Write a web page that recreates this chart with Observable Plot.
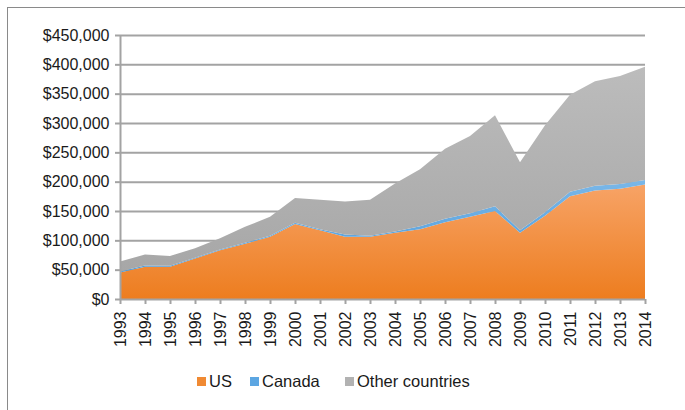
<!DOCTYPE html>
<html>
<head>
<meta charset="utf-8">
<script src="https://cdn.jsdelivr.net/npm/d3@7"></script>
<script src="https://cdn.jsdelivr.net/npm/@observablehq/plot@0.6"></script>
<style>
  html, body { margin: 0; padding: 0; background: #fff; }
  body { width: 685px; height: 410px; overflow: hidden; position: relative; font-family: "Liberation Sans", Arial, sans-serif; }
  #frame { position: absolute; left: 7px; top: 7px; width: 720px; height: 430px; border: 1.5px solid #8a8a8a; box-sizing: border-box; }
  #chart { position: absolute; left: 0; top: 0; }
  #legend { position: absolute; left: 0; top: 372px; width: 685px; height: 24px; font-size: 16.5px; color: #1a1a1a; }
  .item { position: absolute; top: 0; display: flex; align-items: center; }
  .sw { width: 9px; height: 9px; margin-right: 3px; }
</style>
</head>
<body>
<div id="frame"></div>
<div id="chart"></div>
<div id="legend"></div>
<script>
const years  = [1993,1994,1995,1996,1997,1998,1999,2000,2001,2002,2003,2004,2005,2006,2007,2008,2009,2010,2011,2012,2013,2014];
const us     = [45000,55000,55000,69000,83000,94000,106000,128000,117000,106000,106000,113000,119000,131000,140000,150000,113000,142000,175000,185000,188000,195000];
const canada = [2000,2000,1500,1500,1500,2000,2000,2000,2000,4000,2000,2000,5000,6000,6000,8000,4000,6000,8000,8000,8000,8000];
const other  = [17000,19000,17000,16000,19000,27000,32000,42000,50000,56000,61000,82000,97000,119000,132000,155000,116000,148000,165000,178000,184000,193000];
const seriesNames = ["US","Canada","Other countries"];
const yTicks = [0,50000,100000,150000,200000,250000,300000,350000,400000,450000];

const table = [];
years.forEach((yr, i) => {
  table.push({year: yr, series: "US", value: us[i]});
  table.push({year: yr, series: "Canada", value: canada[i]});
  table.push({year: yr, series: "Other countries", value: other[i]});
});

const fmt = d3.format(",");
const chart = Plot.plot({
  width: 685,
  height: 358,
  marginLeft: 120,
  marginRight: 40,
  marginTop: 35,
  marginBottom: 59,
  style: {fontSize: "16px", fontFamily: "Liberation Sans, Arial, sans-serif", color: "#1a1a1a", background: "transparent", overflow: "visible"},
  x: {domain: [1993, 2014], ticks: years, tickFormat: () => "", tickSize: 5, label: null},
  y: {domain: [0, 450000], ticks: yTicks, tickFormat: d => "$" + fmt(d), tickSize: 5, tickPadding: 6, label: null},
  color: {domain: seriesNames, range: ["url(#gUS)", "url(#gCA)", "url(#gOT)"]},
  marks: [
    Plot.ruleY(yTicks.slice(1), {stroke: "#a3a3a3", strokeWidth: 2}),
    Plot.areaY(table, Plot.stackY({x: "year", y: "value", z: "series", fill: "series", order: seriesNames})),
    Plot.ruleX([1993], {stroke: "#a3a3a3", strokeWidth: 2}),
    Plot.ruleY([0], {stroke: "#a3a3a3", strokeWidth: 2}),
    Plot.text(years, {x: d => d, y: () => 0, text: d => String(d), rotate: -90, textAnchor: "end", dy: 12, fill: "#1a1a1a", fontSize: 16})
  ]
});

const svg = d3.select(chart);
const defs = svg.insert("defs", ":first-child");
function grad(id, top, bottom) {
  const g = defs.append("linearGradient").attr("id", id).attr("x1", 0).attr("y1", 0).attr("x2", 0).attr("y2", 1);
  g.append("stop").attr("offset", "0%").attr("stop-color", top);
  g.append("stop").attr("offset", "100%").attr("stop-color", bottom);
}
grad("gUS", "#f7a366", "#ed7d1f");
grad("gCA", "#7ab7e8", "#4e9bd9");
grad("gOT", "#bcbcbc", "#a7a7a7");
svg.selectAll('g[aria-label="x-axis tick"], g[aria-label="y-axis tick"]').attr("stroke", "#a3a3a3").attr("stroke-width", 2);
document.getElementById("chart").appendChild(chart);

// legend
const legendItems = [
  {name: "US", color: "#f08a33", left: 197},
  {name: "Canada", color: "#5ca6e2", left: 250},
  {name: "Other countries", color: "#b2b2b2", left: 345}
];
const legend = document.getElementById("legend");
legendItems.forEach(it => {
  const d = document.createElement("div");
  d.className = "item";
  d.style.left = it.left + "px";
  const sw = document.createElement("span");
  sw.className = "sw";
  sw.style.background = it.color;
  const t = document.createElement("span");
  t.textContent = it.name;
  d.appendChild(sw); d.appendChild(t);
  legend.appendChild(d);
});
</script>
</body>
</html>
